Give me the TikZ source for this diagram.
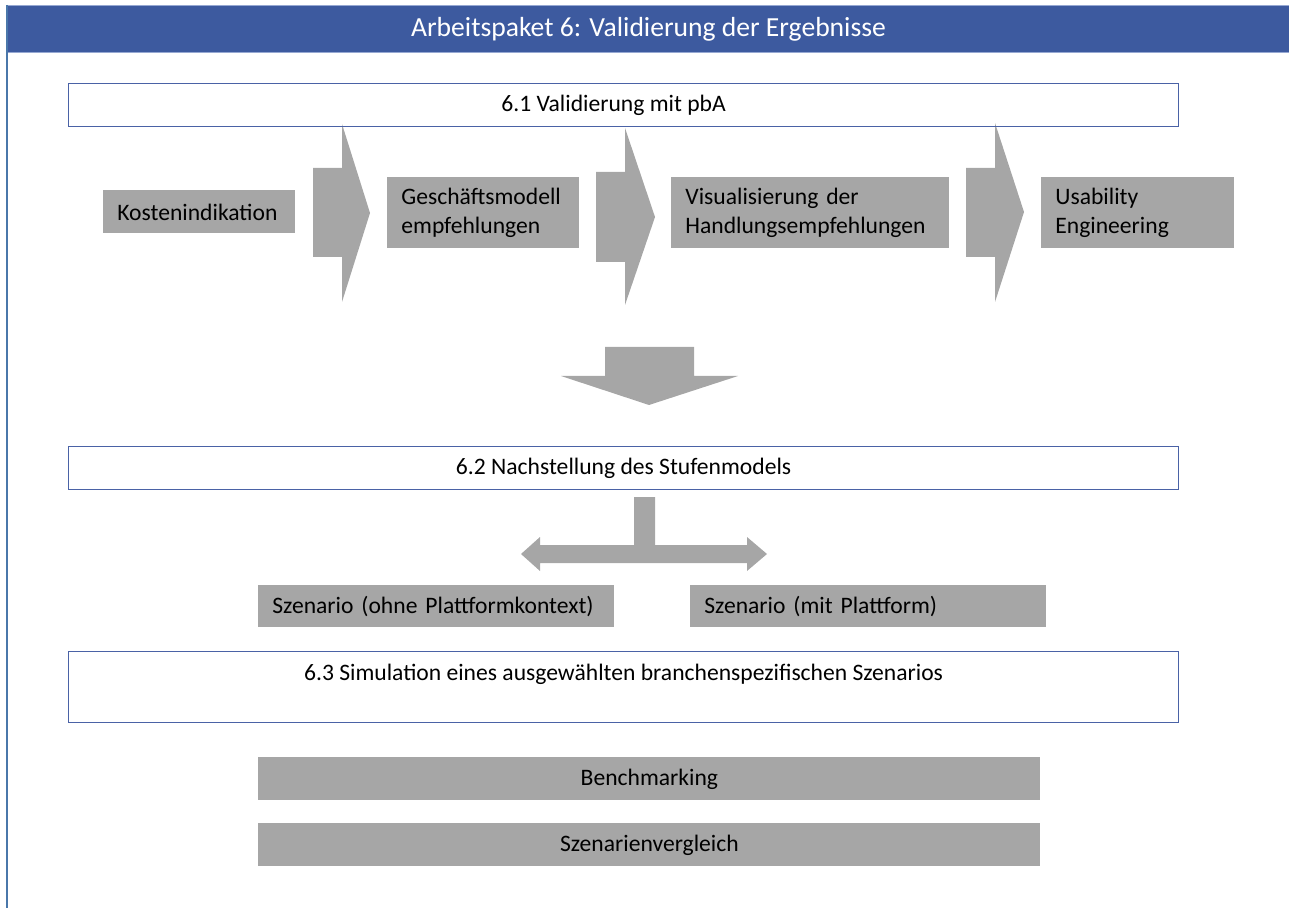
\documentclass[tikz,border=0pt]{standalone}
\usepackage{fontspec}
\setmainfont{Carlito}
\definecolor{hdr}{RGB}{61,90,159}
\definecolor{hdredge}{RGB}{150,168,210}
\definecolor{leftln}{RGB}{74,119,170}
\definecolor{bline}{RGB}{74,98,166}
\definecolor{gfill}{RGB}{166,166,166}
\begin{document}
\begin{tikzpicture}[x=0.5pt,y=-0.5pt,
  every node/.style={font=\fontsize{11.8}{14.5}\selectfont},
  wbox/.style={draw=bline, line width=0.6pt, anchor=north west, inner sep=0pt, align=center},
  gbox/.style={fill=gfill, anchor=north west, inner xsep=7pt, inner ysep=0pt, align=left},
  cbox/.style={fill=gfill, anchor=north west, inner sep=0pt, align=center},
  blockarrow/.style={fill=gfill, draw=none}]
\useasboundingbox (0,0) rectangle (1289,908);
% header and left rule
\node[fill=hdr, draw=hdredge, line width=0.5pt, anchor=north west, inner sep=0pt,
      minimum width=641pt, minimum height=23.5pt, text=white,
      font=\fontsize{13.8}{16}\selectfont] (hdr) at (7,5) {Arbeitspaket 6: Validierung der Ergebnisse};
\draw[leftln, line width=1.2pt] (7,5) -- (7,908);
% block arrows
\fill[blockarrow] (313,168) -- (342,168) -- (342,124) -- (370,213) -- (342,302) -- (342,257) -- (313,257) -- cycle;
\fill[blockarrow] (596,172) -- (625,172) -- (625,128) -- (655,217) -- (625,305) -- (625,262) -- (596,262) -- cycle;
\fill[blockarrow] (966,168) -- (995,168) -- (995,123) -- (1024,212) -- (995,302) -- (995,257) -- (966,257) -- cycle;
\fill[blockarrow] (605,347) -- (694,347) -- (694,376) -- (738,376) -- (649,405) -- (561,376) -- (605,376) -- cycle;
\fill[blockarrow] (634,497) -- (655,497) -- (655,545) -- (747,545) -- (747,537) -- (767,554) -- (747,571) -- (747,563)
   -- (540,563) -- (540,571) -- (521,554) -- (540,537) -- (540,545) -- (634,545) -- cycle;
% boxes
\node[wbox, minimum width=555pt, minimum height=21.5pt] (p61) at (68,83) {\hspace*{-10pt}6.1 Validierung mit pbA};
\node[gbox, text width=82pt, minimum height=21.5pt] (kost) at (103,190) {Kostenindikation};
\node[gbox, text width=82pt, minimum height=35.5pt] (gesch) at (387,177) {Geschäftsmodell\\empfehlungen};
\node[gbox, text width=125pt, minimum height=35.5pt] (visu) at (671,177) {Visualisierung der\\Handlungsempfehlungen};
\node[gbox, text width=82.5pt, minimum height=35.5pt] (usab) at (1041,177) {Usability\\Engineering};
\node[wbox, minimum width=555pt, minimum height=21.5pt] (p62) at (68,446) {6.2 Nachstellung des Stufenmodels};
\node[gbox, text width=164pt, minimum height=21pt] (szo) at (258,585) {Szenario (ohne Plattformkontext)};
\node[gbox, text width=164pt, minimum height=21pt] (szm) at (690,585) {Szenario (mit Plattform)};
\node[wbox, minimum width=555pt, minimum height=35.5pt] (p63) at (68,651) {6.3 Simulation eines ausgewählten branchenspezifischen Szenarios\\\mbox{}};
\node[cbox, minimum width=391pt, minimum height=21.5pt] (bench) at (258,757) {Benchmarking};
\node[cbox, minimum width=391pt, minimum height=21.5pt] (szv) at (258,823) {Szenarienvergleich};
\end{tikzpicture}
\end{document}
